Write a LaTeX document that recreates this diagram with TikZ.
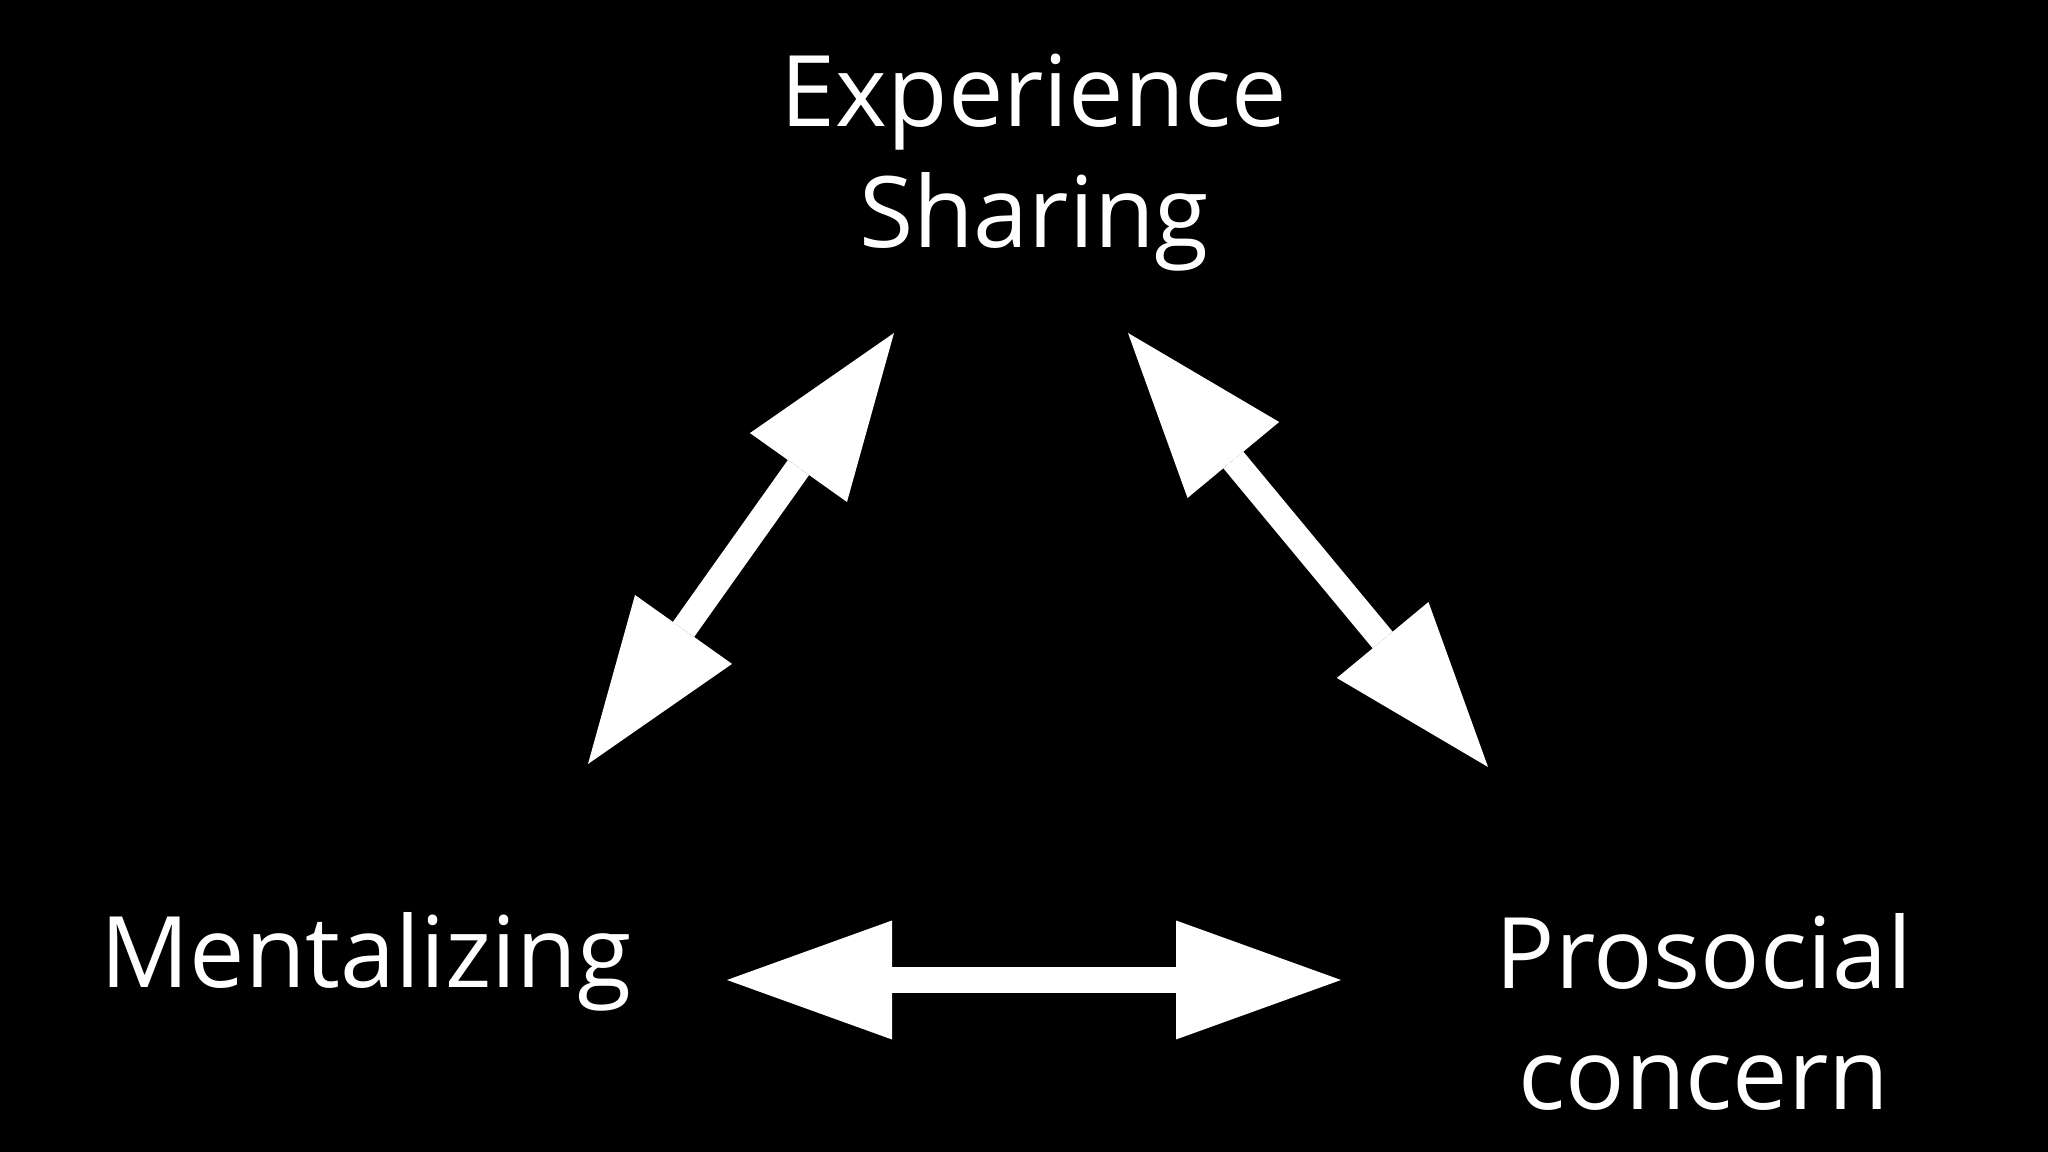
\documentclass[tikz,border=0pt]{standalone}
\usepackage{fontspec}
\setmainfont{Open Sans}
\usetikzlibrary{arrows.meta}
\begin{document}
\begin{tikzpicture}[line join=miter, >={Triangle[length=16.5mm,width=11.9mm,line width=0pt]},
  lbl/.style={text=white, align=center, font=\fontsize{28.1pt}{34.7pt}\selectfont, inner sep=0pt, anchor=base},
  dbl/.style={<->, white, line width=2.6mm}]
\fill[black] (0,0) rectangle (20.48,11.52);
\useasboundingbox (0,0) rectangle (20.48,11.52);
\node[lbl] (exp) at (10.34,9.04) {Experience\\Sharing};
\node[lbl] (ment) at (3.66,1.64) {Mentalizing};
\node[lbl] (pros) at (17.04,0.42) {Prosocial\\concern};
\coordinate (el) at (8.94,8.19);
\coordinate (er) at (11.28,8.19);
\coordinate (mu) at (5.88,3.88);
\coordinate (mr) at (7.27,1.72);
\coordinate (pu) at (14.88,3.85);
\coordinate (pl) at (13.41,1.72);
\draw[dbl] (el) -- (mu);
\draw[dbl] (er) -- (pu);
\draw[dbl] (mr) -- (pl);
\end{tikzpicture}
\end{document}
